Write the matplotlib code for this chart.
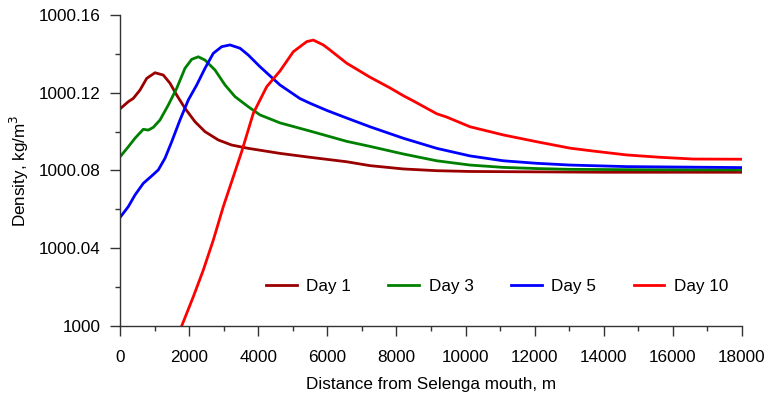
import matplotlib
matplotlib.use("Agg")
import matplotlib.pyplot as plt
from matplotlib.ticker import MultipleLocator, FuncFormatter

plt.rcParams['font.family'] = ['Liberation Sans', 'DejaVu Sans']

# density profiles along the river plume (distance in m, density above 1000 kg/m3)
day1_x = [0, 240, 385, 579, 773, 1013, 1253, 1447, 1641, 1881, 2170, 2459, 2845,
          3231, 3711, 4630, 5498, 6560, 7235, 8198, 9165, 10129, 11092, 12059,
          14000, 16000, 18000]
day1_y = [0.1117, 0.1154, 0.1171, 0.1214, 0.1274, 0.1303, 0.1291, 0.1249, 0.1188,
          0.1120, 0.1051, 0.1000, 0.0957, 0.0931, 0.0914, 0.0888, 0.0868, 0.0845,
          0.0825, 0.0808, 0.0799, 0.0795, 0.0794, 0.0793, 0.0791, 0.0791, 0.0791]

day3_x = [0, 240, 434, 674, 819, 964, 1158, 1398, 1641, 1881, 2075, 2266, 2460,
          2749, 3039, 3328, 3713, 4051, 4630, 5498, 6560, 7235, 8198, 9165,
          10129, 11092, 12059, 13022, 15000, 18000]
day3_y = [0.0870, 0.0922, 0.0966, 0.1012, 0.1008, 0.1022, 0.1060, 0.1137, 0.1223,
          0.1326, 0.1372, 0.1385, 0.1368, 0.1317, 0.1240, 0.1180, 0.1128, 0.1086,
          0.1045, 0.1003, 0.0950, 0.0924, 0.0885, 0.0850, 0.0828, 0.0816, 0.0810,
          0.0806, 0.0804, 0.0803]

day5_x = [0, 240, 434, 674, 917, 1108, 1302, 1496, 1736, 1977, 2220, 2460, 2700,
          2943, 3183, 3473, 3713, 4051, 4630, 5209, 5498, 6000, 6560, 7235, 8198,
          9165, 10129, 11092, 12059, 13022, 14663, 18000]
day5_y = [0.0558, 0.0614, 0.0674, 0.0734, 0.0772, 0.0803, 0.0863, 0.0948, 0.1060,
          0.1163, 0.1240, 0.1326, 0.1403, 0.1437, 0.1446, 0.1429, 0.1394, 0.1334,
          0.1240, 0.1170, 0.1146, 0.1108, 0.1070, 0.1025, 0.0966, 0.0914, 0.0875,
          0.0850, 0.0837, 0.0828, 0.0820, 0.0815]

day10_x = [1785, 2122, 2411, 2700, 2989, 3279, 3521, 3857, 4245, 4630, 5015, 5403,
           5594, 5883, 6077, 6560, 7235, 7813, 8198, 8488, 9165, 9453, 10129,
           11092, 12059, 13022, 13697, 14663, 15627, 16591, 18000]
day10_y = [0.0, 0.0151, 0.0288, 0.0442, 0.0614, 0.0768, 0.0897, 0.1094, 0.1231,
           0.1312, 0.1411, 0.1463, 0.1471, 0.1446, 0.1420, 0.1352, 0.1280, 0.1225,
           0.1185, 0.1158, 0.1092, 0.1075, 0.1025, 0.0983, 0.0948, 0.0915, 0.0900,
           0.0880, 0.0868, 0.0859, 0.0858]

series = [
    ("Day 1", day1_x, day1_y, "#9a0000"),
    ("Day 3", day3_x, day3_y, "#008000"),
    ("Day 5", day5_x, day5_y, "#0000ff"),
    ("Day 10", day10_x, day10_y, "#ff0000"),
]

fs = 12.3

fig = plt.figure(figsize=(7.69, 3.99), dpi=100)
ax = fig.add_axes([120 / 769, 73 / 399, 622 / 769, 311 / 399])

for name, xs, ys, col in series:
    ax.plot(xs, [1000 + v for v in ys], color=col, lw=2.0, label=name,
            solid_joinstyle="round")

ax.set_xlim(0, 18000)
ax.set_ylim(1000, 1000.16)
ax.xaxis.set_major_locator(MultipleLocator(2000))
ax.xaxis.set_minor_locator(MultipleLocator(1000))
ax.yaxis.set_major_locator(MultipleLocator(0.04))
ax.yaxis.set_minor_locator(MultipleLocator(0.02))
ax.yaxis.set_major_formatter(FuncFormatter(lambda v, p: f"{v:.2f}".rstrip("0").rstrip(".")))

for side in ("top", "right"):
    ax.spines[side].set_visible(False)
for side in ("left", "bottom"):
    ax.spines[side].set_color("#333333")
    ax.spines[side].set_linewidth(1.0)

ax.tick_params(which="major", length=7.2, width=1.0, color="#333333",
               labelsize=fs, pad=7)
ax.tick_params(which="minor", length=3.6, width=1.0, color="#333333")
ax.tick_params(axis="x", which="major", pad=10)

ax.set_xlabel("Distance from Selenga mouth, m", fontsize=fs, labelpad=9)
ax.set_ylabel("Density, kg/m$^3$", fontsize=fs, labelpad=5)

ax.legend(loc="center", bbox_to_anchor=(0.606, 0.126), ncol=4, frameon=False,
          fontsize=fs, handlelength=1.8, handletextpad=0.55, columnspacing=2.2)

fig.savefig("out.png", dpi=100)
